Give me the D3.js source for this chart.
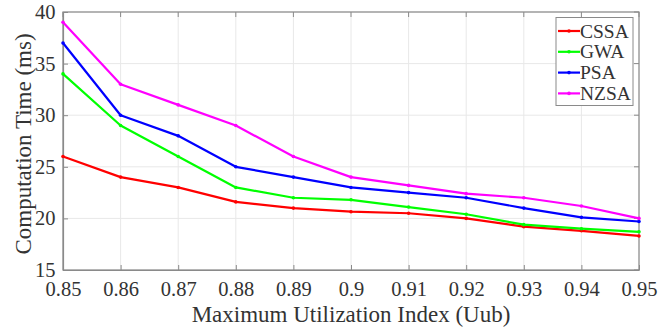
<!DOCTYPE html>
<html><head><meta charset="utf-8">
<script src="https://cdn.jsdelivr.net/npm/d3@7"></script>
<style>body{margin:0;background:#fff}svg{display:block}text{font-family:"Liberation Serif","Times New Roman",serif;fill:#333}</style>
</head><body><svg id="c" width="672" height="329"></svg>
<script>
const xValues = [0.85,0.86,0.87,0.88,0.89,0.90,0.91,0.92,0.93,0.94,0.95];
const xTickLabels = ["0.85","0.86","0.87","0.88","0.89","0.9","0.91","0.92","0.93","0.94","0.95"];
const yTicks = [15,20,25,30,35,40];
const seriesNames = ["CSSA","GWA","PSA","NZSA"];
const seriesColors = ["#ff0000","#00ff00","#0000ff","#ff00ff"];
const cssa = [26,24,23,21.6,21,20.65,20.5,20.0,19.2,18.8,18.3];
const gwa  = [34,29,26,23,22,21.8,21.1,20.4,19.4,19.0,18.7];
const psa  = [37,30,28,25,24,23,22.5,22.0,21,20.1,19.7];
const nzsa = [39,33,31,29,26,24,23.2,22.4,22,21.2,20.0];
const seriesValues = [cssa,gwa,psa,nzsa];

const L=63,R=639,T=12,B=270;
const svg=d3.select("#c");
const x=d3.scaleLinear().domain([0.85,0.95]).range([L,R]);
const y=d3.scaleLinear().domain([15,40]).range([B,T]);

// grid
svg.append("g").selectAll("line").data(xValues).join("line")
 .attr("x1",d=>x(d)).attr("x2",d=>x(d)).attr("y1",T).attr("y2",B)
 .attr("stroke","#e8e8e8").attr("stroke-width",1);
svg.append("g").selectAll("line").data(yTicks).join("line")
 .attr("x1",L).attr("x2",R).attr("y1",d=>y(d)).attr("y2",d=>y(d))
 .attr("stroke","#e8e8e8").attr("stroke-width",1);

// box
svg.append("rect").attr("x",L).attr("y",T).attr("width",R-L).attr("height",B-T)
 .attr("fill","none").attr("stroke","#8a8a8a").attr("stroke-width",1.2);

// axes
const xa=svg.append("g").attr("transform",`translate(0,${B})`)
 .call(d3.axisBottom(x).tickValues(xValues).tickFormat((d,i)=>xTickLabels[i]).tickSizeInner(-5).tickSizeOuter(0).tickPadding(11));
const ya=svg.append("g").attr("transform",`translate(${L},0)`)
 .call(d3.axisLeft(y).tickValues(yTicks).tickSizeInner(-5).tickSizeOuter(0).tickPadding(7.5));
[xa,ya].forEach(g=>{g.select(".domain").attr("stroke","#8a8a8a").attr("stroke-width",1.2);
 g.selectAll(".tick line").attr("stroke","#8a8a8a");
 g.selectAll("text").style("font-family","'Liberation Serif',serif").style("font-size","20.5px").attr("fill","#333");});
// top & right ticks
svg.append("g").selectAll("line").data(xValues).join("line")
 .attr("x1",d=>x(d)).attr("x2",d=>x(d)).attr("y1",T).attr("y2",T+5).attr("stroke","#8a8a8a");
svg.append("g").selectAll("line").data(yTicks).join("line")
 .attr("x1",R-5).attr("x2",R).attr("y1",d=>y(d)).attr("y2",d=>y(d)).attr("stroke","#8a8a8a");

// lines
const line=d3.line().x((d,i)=>x(xValues[i])).y(d=>y(d));
seriesValues.forEach((vals,k)=>{
  svg.append("path").datum(vals).attr("d",line).attr("fill","none")
   .attr("stroke",seriesColors[k]).attr("stroke-width",2.2).attr("stroke-linejoin","round");
  svg.append("g").selectAll("circle").data(vals).join("circle")
   .attr("cx",(d,i)=>x(xValues[i])).attr("cy",d=>y(d)).attr("r",1.8).attr("fill",seriesColors[k]);
});

// axis titles
svg.append("text").attr("x",(L+R)/2).attr("y",322).attr("text-anchor","middle")
 .style("font-size","23px").text("Maximum Utilization Index (Uub)");
svg.append("text").attr("transform",`translate(31,144) rotate(-90)`).attr("text-anchor","middle")
 .style("font-size","23px").text("Computation Time (ms)");

// legend
const lg=svg.append("g");
lg.append("rect").attr("x",556).attr("y",17.5).attr("width",77).attr("height",88)
 .attr("fill","#fff").attr("stroke","#8a8a8a").attr("stroke-width",1);
seriesNames.forEach((n,k)=>{
  const yy=31+k*20.8;
  lg.append("line").attr("x1",558).attr("x2",580).attr("y1",yy).attr("y2",yy)
   .attr("stroke",seriesColors[k]).attr("stroke-width",2.2);
  lg.append("circle").attr("cx",569).attr("cy",yy).attr("r",1.8).attr("fill",seriesColors[k]);
  lg.append("text").attr("x",580).attr("y",yy+6.5).style("font-size","19.5px").text(n);
});
</script></body></html>
